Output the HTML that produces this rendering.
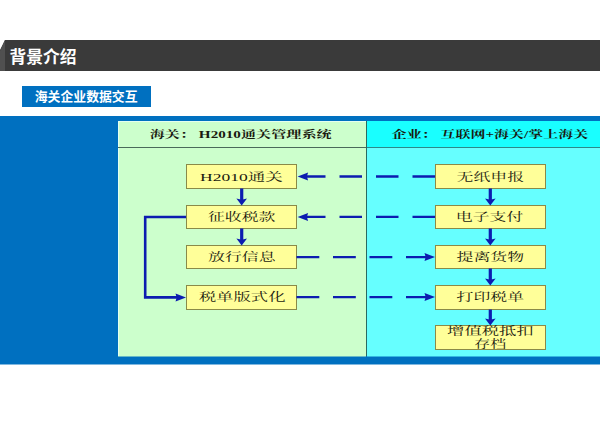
<!DOCTYPE html>
<html lang="zh-CN">
<head>
<meta charset="utf-8">
<title>背景介绍 - 海关企业数据交互</title>
<style>
html,body{margin:0;padding:0;background:#fff;}
body{width:600px;height:424px;position:relative;overflow:hidden;font-family:"Liberation Sans","Noto Sans CJK SC",sans-serif;}
/* inline text is kept for semantics; the visible labels are drawn as SVG text in the overlay */
.t{color:transparent;white-space:nowrap;}
.bar{position:absolute;left:0;top:40px;width:600px;height:31px;background:#3a3a3a;clip-path:polygon(5px 0,600px 0,600px 31px,0 31px,0 10px);}
.bar h1{margin:0;position:absolute;left:10px;top:6px;font-size:17px;line-height:20px;font-weight:bold;}
.barl{position:absolute;left:0;top:40px;width:5px;height:31px;background:#505050;clip-path:polygon(5px 0,5px 31px,0 31px,0 11px);}
.tag{position:absolute;left:22px;top:86px;width:129px;height:21px;background:#0070c0;}
.tag h2{margin:0;position:absolute;left:13px;top:3px;font-size:13px;line-height:15px;font-weight:bold;}
.panel{position:absolute;left:0;top:116px;width:600px;height:248px;background:#0070c0;box-shadow:0 1px 0 #80b8e0;}
.gov{position:absolute;left:118px;top:5px;width:248px;height:235px;background:#ccffcc;box-shadow:inset 1px 1px 0 #e4fff0,0 1px 0 #66b8c6;}
.ent{position:absolute;left:367px;top:5px;width:233px;height:235px;background:#6ff;box-shadow:0 1px 0 #33b8e0;}
.vdiv{position:absolute;left:366px;top:5px;width:1px;height:235px;background:#2a6a62;}
.hd{position:absolute;left:0;top:0;right:0;height:27px;border-bottom:1px solid #4a6a5a;box-sizing:border-box;font-family:"Liberation Serif","Noto Serif CJK SC",serif;font-size:10px;line-height:27px;text-align:center;}
.ent .hd{background:#19ffff;border-bottom-color:#2a8a8a;}
.bx{position:absolute;box-sizing:border-box;background:#ffff99;border:1px solid #8a8a48;font-family:"Liberation Serif","Noto Serif CJK SC",serif;font-size:11px;line-height:12px;text-align:center;display:flex;align-items:center;justify-content:center;}
.ov{position:absolute;left:0;top:0;}
.ov text{white-space:pre;}
.ov .sans{font-family:"Liberation Sans","Noto Sans CJK SC",sans-serif;font-weight:bold;fill:#fff;}
.ov .hdt{font-family:"Liberation Serif","Noto Serif CJK SC",serif;font-weight:bold;font-size:10px;fill:#1a1a10;}
.ov .bxt{font-family:"Liberation Serif","Noto Serif CJK SC",serif;font-size:11px;fill:#1a1a10;}
</style>
</head>
<body>
<div class="bar"><h1 class="t">背景介绍</h1></div>
<div class="barl"></div>
<div class="tag"><h2 class="t">海关企业数据交互</h2></div>
<div class="panel">
  <div class="gov"><div class="hd t">海关： H2010通关管理系统</div></div>
  <div class="vdiv"></div>
  <div class="ent"><div class="hd t">企业： 互联网+海关/掌上海关</div></div>
</div>
<div class="t">
<div class="bx l" style="left:186px;top:164px;width:111px;height:25px"><span>H2010通关</span></div>
<div class="bx l" style="left:186px;top:205px;width:111px;height:24px"><span>征收税款</span></div>
<div class="bx l" style="left:186px;top:245px;width:111px;height:24px"><span>放行信息</span></div>
<div class="bx l" style="left:186px;top:285px;width:111px;height:25px"><span>税单版式化</span></div>
<div class="bx r" style="left:435px;top:164px;width:111px;height:25px"><span>无纸申报</span></div>
<div class="bx r" style="left:435px;top:205px;width:111px;height:24px"><span>电子支付</span></div>
<div class="bx r" style="left:435px;top:245px;width:111px;height:24px"><span>提离货物</span></div>
<div class="bx r" style="left:435px;top:285px;width:111px;height:25px"><span>打印税单</span></div>
<div class="bx r" style="left:435px;top:325px;width:111px;height:25px"><span>增值税抵扣<br>存档</span></div>
</div>
<svg class="ov" width="600" height="424" viewBox="0 0 600 424" aria-hidden="true"><path d="M241.7 188.5V200.6" stroke="#0c1cb0" stroke-width="3.2" fill="none"/><path d="M241.7 205.6L236.4 198.4L241.7 199.8L247 198.4Z" fill="#0c1cb0"/><path d="M241.7 228.5V240.6" stroke="#0c1cb0" stroke-width="3.2" fill="none"/><path d="M241.7 245.6L236.4 238.4L241.7 239.8L247 238.4Z" fill="#0c1cb0"/><path d="M490.3 188.5V200.6" stroke="#0c1cb0" stroke-width="3.2" fill="none"/><path d="M490.3 205.6L485 198.4L490.3 199.8L495.6 198.4Z" fill="#0c1cb0"/><path d="M490.3 228.5V240.6" stroke="#0c1cb0" stroke-width="3.2" fill="none"/><path d="M490.3 245.6L485 238.4L490.3 239.8L495.6 238.4Z" fill="#0c1cb0"/><path d="M490.3 268.5V280.6" stroke="#0c1cb0" stroke-width="3.2" fill="none"/><path d="M490.3 285.6L485 278.4L490.3 279.8L495.6 278.4Z" fill="#0c1cb0"/><path d="M490.3 309.5V320.6" stroke="#0c1cb0" stroke-width="3.2" fill="none"/><path d="M490.3 325.6L485 318.4L490.3 319.8L495.6 318.4Z" fill="#0c1cb0"/><path d="M435 176.5H305" stroke="#0c1cb0" stroke-width="2.3" stroke-dasharray="22.5 14" fill="none"/><path d="M297.6 176.5L308.1 172.5L306.9 176.5L308.1 180.5Z" fill="#0c1cb0"/><path d="M435 216.9H305" stroke="#0c1cb0" stroke-width="2.3" stroke-dasharray="22.5 14" fill="none"/><path d="M297.6 216.9L308.1 212.9L306.9 216.9L308.1 220.9Z" fill="#0c1cb0"/><path d="M296.5 257.1H428" stroke="#0c1cb0" stroke-width="2.3" stroke-dasharray="22.8 13.7" fill="none"/><path d="M435 257.1L424.5 253.1L425.7 257.1L424.5 261.1Z" fill="#0c1cb0"/><path d="M296.5 297.1H428" stroke="#0c1cb0" stroke-width="2.3" stroke-dasharray="22.8 13.7" fill="none"/><path d="M435 297.1L424.5 293.1L425.7 297.1L424.5 301.1Z" fill="#0c1cb0"/><path d="M186 217H145.2V297.4H178" stroke="#0c1cb0" stroke-width="2.6" fill="none" stroke-linejoin="miter"/><path d="M186 297.4L175.5 293.4L176.7 297.4L175.5 301.4Z" fill="#0c1cb0"/>
<text class="sans" x="9.4" y="63.3" font-size="17" textLength="67.2" lengthAdjust="spacingAndGlyphs">背景介绍</text>
<text class="sans" x="34.75" y="101.2" font-size="13" textLength="102.8" lengthAdjust="spacingAndGlyphs">海关企业数据交互</text>
<text class="hdt" x="149.7" y="138" textLength="182" lengthAdjust="spacingAndGlyphs">海关： H2010通关管理系统</text>
<text class="hdt" x="391.7" y="138" textLength="196.6" lengthAdjust="spacingAndGlyphs">企业： 互联网+海关/掌上海关</text>
<text class="bxt" x="200" y="180.6" textLength="82.8" lengthAdjust="spacingAndGlyphs">H2010通关</text>
<text class="bxt" x="207.9" y="221" textLength="67.55" lengthAdjust="spacingAndGlyphs">征收税款</text>
<text class="bxt" x="208" y="261.4" textLength="67.55" lengthAdjust="spacingAndGlyphs">放行信息</text>
<text class="bxt" x="198.9" y="301.4" textLength="86.6" lengthAdjust="spacingAndGlyphs">税单版式化</text>
<text class="bxt" x="456.6" y="180.6" textLength="67.55" lengthAdjust="spacingAndGlyphs">无纸申报</text>
<text class="bxt" x="455.8" y="221" textLength="67.55" lengthAdjust="spacingAndGlyphs">电子支付</text>
<text class="bxt" x="456.5" y="261.4" textLength="67.55" lengthAdjust="spacingAndGlyphs">提离货物</text>
<text class="bxt" x="456.6" y="301.4" textLength="67.55" lengthAdjust="spacingAndGlyphs">打印税单</text>
<text class="bxt" x="447.1" y="334.6" textLength="86.6" lengthAdjust="spacingAndGlyphs">增值税抵扣</text>
<text class="bxt" x="474.3" y="348.4" textLength="32" lengthAdjust="spacingAndGlyphs">存档</text>
</svg>
</body>
</html>
